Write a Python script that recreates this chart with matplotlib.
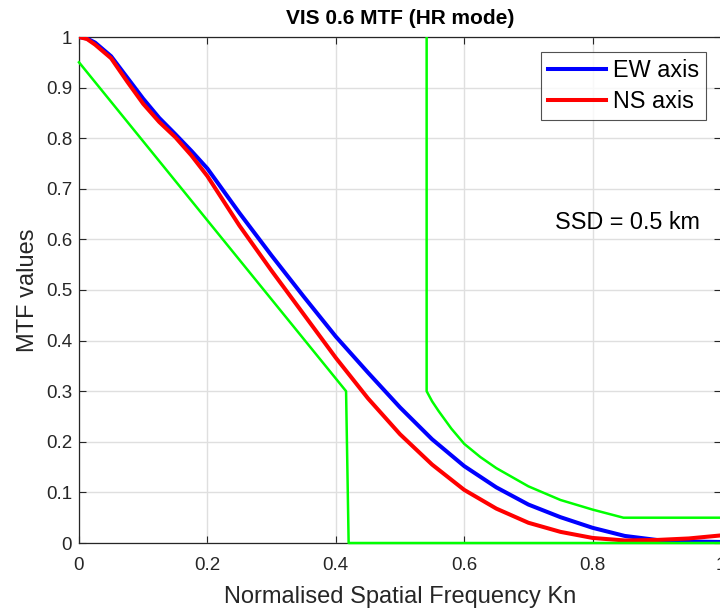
import numpy as np
import matplotlib
matplotlib.use("Agg")
import matplotlib.pyplot as plt

plt.rcParams["font.family"] = ["Liberation Sans", "DejaVu Sans"]

# MTF curves
kn_ew = [0.0, 0.0125, 0.025, 0.05, 0.075, 0.1, 0.125, 0.15, 0.175, 0.2, 0.25, 0.3,
         0.35, 0.4, 0.45, 0.5, 0.55, 0.6, 0.65, 0.7, 0.75, 0.8, 0.85, 0.9, 0.95, 1.0]
mtf_ew = [1.0, 0.997, 0.989, 0.962, 0.92, 0.878, 0.84, 0.808, 0.775, 0.74, 0.652, 0.568,
          0.487, 0.408, 0.337, 0.268, 0.205, 0.152, 0.11, 0.076, 0.051, 0.03, 0.014,
          0.006, 0.003, 0.002]

kn_ns = [0.0, 0.0125, 0.025, 0.05, 0.075, 0.1, 0.125, 0.15, 0.175, 0.2, 0.25, 0.3,
         0.35, 0.4, 0.45, 0.5, 0.55, 0.6, 0.65, 0.7, 0.75, 0.8, 0.85, 0.9, 0.95, 1.0]
mtf_ns = [1.0, 0.996, 0.985, 0.958, 0.912, 0.868, 0.832, 0.802, 0.766, 0.725, 0.627, 0.538,
          0.452, 0.366, 0.286, 0.215, 0.155, 0.105, 0.068, 0.04, 0.022, 0.01, 0.005,
          0.006, 0.009, 0.015]

# requirement masks
mask_lo_x = [0.0, 0.416, 0.42, 1.0]
mask_lo_y = [0.95, 0.3, 0.0, 0.0]
mask_hi_x = [0.5415, 0.5415, 0.55, 0.56, 0.58, 0.6, 0.625, 0.65, 0.7, 0.75, 0.8, 0.848, 1.0]
mask_hi_y = [1.0, 0.3, 0.28, 0.261, 0.226, 0.196, 0.17, 0.148, 0.112, 0.085, 0.066, 0.05, 0.05]

fig = plt.figure(figsize=(7.2, 6.09), dpi=100)
ax = fig.add_axes([79 / 720, 66 / 609, 642 / 720, 506 / 609])

ax.plot(kn_ew, mtf_ew, color="#0000ff", lw=2.9, label="EW axis", zorder=3)
ax.plot(kn_ns, mtf_ns, color="#ff0000", lw=2.9, label="NS axis", zorder=3)
ax.plot(mask_lo_x, mask_lo_y, color="#00ff00", lw=1.8, zorder=4, clip_on=False)
ax.plot(mask_hi_x, mask_hi_y, color="#00ff00", lw=1.8, zorder=4)

ax.set_xlim(0, 1)
ax.set_ylim(0, 1)
ax.set_xticks(np.arange(0, 1.01, 0.2))
ax.set_yticks(np.arange(0, 1.01, 0.1))
ax.set_xticklabels(["0", "0.2", "0.4", "0.6", "0.8", "1"])
ax.set_yticklabels(["0", "0.1", "0.2", "0.3", "0.4", "0.5", "0.6", "0.7", "0.8", "0.9", "1"])
ax.grid(True, color="#dfdfdf", lw=1.0)
ax.set_axisbelow(True)
ax.tick_params(direction="in", top=True, right=True, length=5, width=0.8,
               colors="#262626", labelsize=13.5)
ax.tick_params(axis="x", pad=10)
ax.tick_params(axis="y", pad=5)
for s in ax.spines.values():
    s.set_color("#262626")
    s.set_linewidth(0.9)

ax.set_title("VIS 0.6 MTF (HR mode)", fontsize=15, fontweight="bold", pad=9)
ax.set_xlabel("Normalised Spatial Frequency Kn", fontsize=17, color="#262626", labelpad=9)
ax.set_ylabel("MTF values", fontsize=17, color="#262626", labelpad=5)

ax.text(0.741, 0.634, "SSD = 0.5 km", fontsize=16.8, color="#000000", va="center", ha="left")

leg = ax.legend(loc="upper right", bbox_to_anchor=((706 - 79) / 642, 1 - 14.7 / 506),
                fontsize=16.8, handlelength=2.5, handletextpad=0.3, borderpad=0.3,
                labelspacing=0.35, frameon=True, fancybox=False, borderaxespad=0)
leg.get_frame().set_edgecolor("#262626")
leg.get_frame().set_linewidth(0.8)

fig.savefig("out.png", dpi=100)
